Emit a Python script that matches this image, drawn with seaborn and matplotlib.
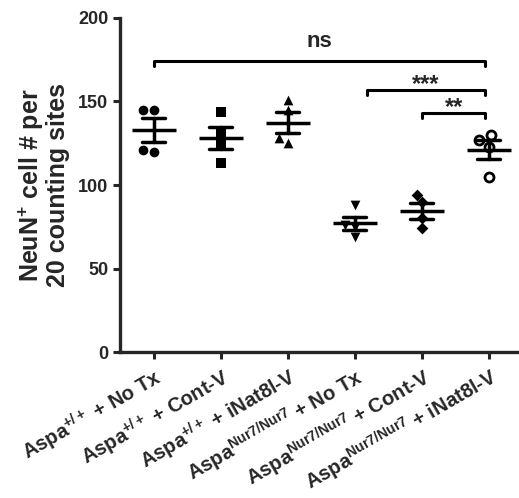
import matplotlib
matplotlib.use("Agg")
import matplotlib.pyplot as plt
import seaborn as sns
import pandas as pd

# cell counts per animal
wt_no_tx = [145, 145, 120, 121]
wt_cont_v = [144, 131, 125, 113]
wt_inat8l_v = [151, 145, 125, 128]
nur7_no_tx = [88, 76, 75, 69]
nur7_cont_v = [94, 90, 80, 74]
nur7_inat8l_v = [130, 127, 123, 105]

groups = ['wt_no_tx', 'wt_cont_v', 'wt_inat8l_v', 'nur7_no_tx', 'nur7_cont_v', 'nur7_inat8l_v']
group_values = [wt_no_tx, wt_cont_v, wt_inat8l_v, nur7_no_tx, nur7_cont_v, nur7_inat8l_v]
tick_labels = [r'Aspa$^{+/+}$ + No Tx', r'Aspa$^{+/+}$ + Cont-V', r'Aspa$^{+/+}$ + iNat8l-V',
               r'Aspa$^{Nur7/Nur7}$ + No Tx', r'Aspa$^{Nur7/Nur7}$ + Cont-V', r'Aspa$^{Nur7/Nur7}$ + iNat8l-V']
markers = ['o', 's', '^', 'v', 'D', 'o']

# significance brackets: (left group, right group, height, label)
brackets = [(0, 4.95, 174, 'ns'), (3.18, 4.95, 157, '***'), (4.0, 4.95, 143, '**')]

df = pd.DataFrame({
    'group': [g for g, v in zip(groups, group_values) for _ in v],
    'value': [x for v in group_values for x in v],
})

sns.set_style('ticks')
plt.rcParams['font.family'] = ['Liberation Sans', 'DejaVu Sans']
plt.rcParams['font.weight'] = 'bold'
plt.rcParams['mathtext.fontset'] = 'custom'
plt.rcParams['mathtext.rm'] = 'Liberation Sans:bold'
plt.rcParams['mathtext.bf'] = 'Liberation Sans:bold'
plt.rcParams['mathtext.default'] = 'bf'

fig = plt.figure(figsize=(5.19, 4.98), dpi=100)
ax = fig.add_axes([120 / 519, 146 / 498, 399 / 519, 334 / 498])

for g, m in zip(groups, markers):
    sub = df[df['group'] == g]
    if g == 'nur7_inat8l_v':
        sns.swarmplot(data=sub, x='group', y='value', order=groups, marker=m, color='white',
                      edgecolor='black', linewidth=2, size=6.5, ax=ax, zorder=3)
    else:
        sns.swarmplot(data=sub, x='group', y='value', order=groups, marker=m, color='black',
                      size=7 if m != 'D' else 6, ax=ax, zorder=3)

sns.pointplot(data=df, x='group', y='value', order=groups, errorbar='se', capsize=0.34,
              color='black', linestyle='none', markers='_', markersize=32, markeredgewidth=2.5,
              err_kws={'linewidth': 2.5}, ax=ax, zorder=4)

for x0, x1, h, txt in brackets:
    ax.plot([x0, x0, x1, x1], [h - 3, h, h, h - 3], color='black', lw=2.2, clip_on=False)
    if txt == 'ns':
        ax.text((x0 + x1) / 2, h + 8.5, txt, ha='center', va='baseline', fontsize=16, fontweight='bold')
    else:
        ax.text((x0 + x1) / 2, h - 0.5, txt, ha='center', va='baseline', fontsize=17, fontweight='bold')

ax.set_xlim(-0.5, 5.45)
ax.set_ylim(0, 200)
ax.set_yticks([0, 50, 100, 150, 200])
ax.set_xticks(range(len(groups)))
ax.set_xticklabels(tick_labels, rotation=30, ha='right', rotation_mode='anchor', fontsize=14.5)
ax.tick_params(axis='both', width=2.2, length=5, labelsize=13)
ax.tick_params(axis='x', labelsize=14.5)
ax.set_xlabel('')
ax.set_ylabel('NeuN$^{+}$ cell # per\n20 counting sites', fontsize=18, fontweight='bold',
              labelpad=6, linespacing=1.0)
for s in ['left', 'bottom']:
    ax.spines[s].set_linewidth(2.4)
sns.despine(ax=ax)

fig.savefig('out.png', dpi=100)
